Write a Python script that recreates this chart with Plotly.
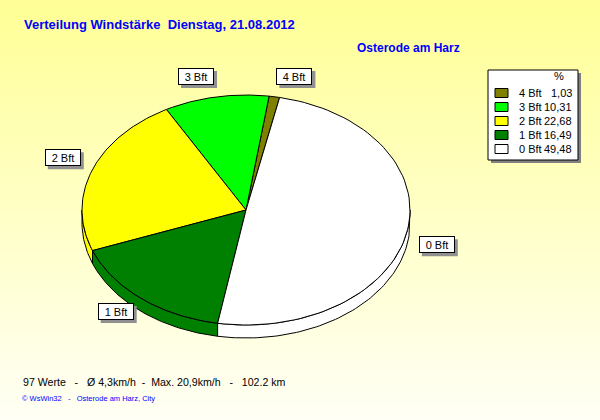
import numpy as np
import plotly.graph_objects as go

# ---- data ----
categories = ["4 Bft", "3 Bft", "2 Bft", "1 Bft", "0 Bft"]
percent = [1.03, 10.31, 22.68, 16.49, 49.48]
percent_labels = ["1,03", "10,31", "22,68", "16,49", "49,48"]
colors = ["#808000", "#00FF00", "#FFFF00", "#008000", "#FFFFFF"]

title_text = "Verteilung Windstärke  Dienstag, 21.08.2012"
station = "Osterode am Harz"
summary = "97 Werte   -   Ø 4,3km/h  -  Max. 20,9km/h   -   102.2 km"
credit = "© WsWin32   -   Osterode am Harz, City"

# ---- layout geometry ----
W, H = 600, 420
cx, cy, rx, ry, thick = 246, 210, 164, 115, 13
start = 78.2
FONT = "Liberation Sans, Arial, sans-serif"

fig = go.Figure()

# background gradient
yy = np.linspace(0, H, 43)
fig.add_trace(go.Heatmap(
    x=[0, W], y=yy, z=[[v, v] for v in yy],
    colorscale=[[0, "rgb(255,255,150)"], [1, "rgb(255,255,245)"]],
    showscale=False, hoverinfo="skip", zsmooth="best"))


def arc(a, b, n=80):
    t = np.radians(np.linspace(a, b, n))
    return cx + rx * np.cos(t), cy - ry * np.sin(t)


cum = np.concatenate([[0], np.cumsum(percent)])
angles = [(start + 3.6 * cum[i], start + 3.6 * cum[i + 1]) for i in range(len(percent))]

# side walls (visible lower half)
for (a, b), col in zip(angles, colors):
    for lo, hi in [(180, 360), (540, 720)]:
        s, e = max(a, lo), min(b, hi)
        if e > s:
            x, y = arc(s, e)
            xs = np.concatenate([x, x[::-1], x[:1]])
            ys = np.concatenate([y, y[::-1] + thick, y[:1]])
            fig.add_trace(go.Scatter(x=xs, y=ys, mode="lines", fill="toself",
                                     fillcolor=col, line=dict(color="black", width=1),
                                     hoverinfo="skip", showlegend=False))

# top faces
for (a, b), col, name, p in zip(angles, colors, categories, percent):
    x, y = arc(a, b)
    xs = np.concatenate([[cx], x, [cx]])
    ys = np.concatenate([[cy], y, [cy]])
    fig.add_trace(go.Scatter(x=xs, y=ys, mode="lines", fill="toself",
                             fillcolor=col, line=dict(color="black", width=1),
                             name=name, text=f"{name}: {p}%", hoverinfo="text",
                             showlegend=False))

annotations = []
shapes = []

# slice labels with shadow
L = 12
BW, BH = 36, 17
for (a, b), name in zip(angles, categories):
    m = np.radians((a + b) / 2)
    ex, ey = cx + rx * np.cos(m), cy - ry * np.sin(m)
    lx = ex + L * np.cos(m)
    if np.cos(m) > 0:
        xanchor, bx0 = "left", lx
    else:
        xanchor, bx0 = "right", lx - BW
    if np.sin(m) > 0:
        ly, yanchor = ey - L * np.sin(m), "bottom"
        by0 = ly - BH
    else:
        ly, yanchor = ey + thick, "middle"
        by0 = ly - BH / 2
    shapes.append(dict(type="rect", xref="x", yref="y", x0=bx0 + 3, x1=bx0 + BW + 3,
                       y0=by0 + 3, y1=by0 + BH + 3, fillcolor="#909090", line=dict(width=0)))
    annotations.append(dict(
        x=lx, y=ly, xref="x", yref="y", text=name, showarrow=False,
        xanchor=xanchor, yanchor=yanchor,
        font=dict(family=FONT, size=11, color="black"),
        bgcolor="white", bordercolor="black", borderwidth=1,
        borderpad=1, width=32, height=13))

# legend box
lx0, ly0, lx1, ly1 = 488, 70, 578, 160
shapes.append(dict(type="rect", xref="x", yref="y", x0=lx0 + 3, y0=ly0 + 3, x1=lx1 + 3, y1=ly1 + 3,
                   fillcolor="#808080", line=dict(width=0)))
shapes.append(dict(type="rect", xref="x", yref="y", x0=lx0, y0=ly0, x1=lx1, y1=ly1,
                   fillcolor="white", line=dict(color="black", width=1)))
annotations.append(dict(x=559, y=76, xref="x", yref="y", text="%", showarrow=False,
                        font=dict(family=FONT, size=11, color="black")))
for i, (name, lab, col) in enumerate(zip(categories, percent_labels, colors)):
    yc = 93 + 14 * i
    shapes.append(dict(type="rect", xref="x", yref="y", x0=495, x1=508, y0=yc - 4.5, y1=yc + 4.5,
                       fillcolor=col, line=dict(color="black", width=1)))
    annotations.append(dict(x=517, y=yc, xref="x", yref="y", text=name, showarrow=False,
                            xanchor="left", yanchor="middle",
                            font=dict(family=FONT, size=11, color="black")))
    annotations.append(dict(x=574, y=yc, xref="x", yref="y", text=lab, showarrow=False,
                            xanchor="right", yanchor="middle",
                            font=dict(family=FONT, size=11, color="black")))

# texts
annotations.append(dict(x=22, y=24, xref="x", yref="y", text=f"<b>{title_text}</b>", showarrow=False,
                        xanchor="left", yanchor="middle",
                        font=dict(family=FONT, size=13, color="#0000FF")))
annotations.append(dict(x=355, y=48, xref="x", yref="y", text=f"<b>{station}</b>", showarrow=False,
                        xanchor="left", yanchor="middle",
                        font=dict(family=FONT, size=12, color="#0000FF")))
annotations.append(dict(x=21, y=382, xref="x", yref="y", text=summary, showarrow=False,
                        xanchor="left", yanchor="middle",
                        font=dict(family=FONT, size=10.6, color="black")))
annotations.append(dict(x=20, y=398, xref="x", yref="y", text=credit, showarrow=False,
                        xanchor="left", yanchor="middle",
                        font=dict(family=FONT, size=7.5, color="#0000FF")))

fig.update_layout(
    width=W, height=H, autosize=False,
    margin=dict(l=0, r=0, t=0, b=0),
    paper_bgcolor="#FFFFCC", plot_bgcolor="#FFFFCC",
    xaxis=dict(range=[0, W], visible=False, fixedrange=True),
    yaxis=dict(range=[H, 0], visible=False, fixedrange=True),
    showlegend=False,
    annotations=annotations, shapes=shapes,
)

fig.write_html("out.html", config={"displayModeBar": False},
               post_script="document.body.style.margin='0px';")
